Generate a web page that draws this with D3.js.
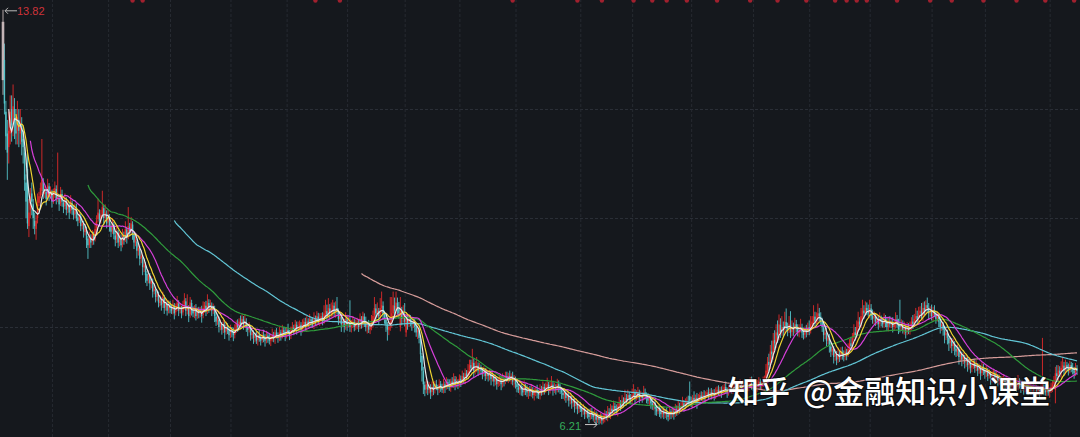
<!DOCTYPE html>
<html><head><meta charset="utf-8">
<script src="https://cdn.jsdelivr.net/npm/d3@7"></script>
<style>
html,body{margin:0;padding:0;background:#15181d;overflow:hidden;}
svg{display:block;}
</style></head><body>
<svg id="chart" width="1080" height="437"></svg>
<script>
// Daily closes (one per trading day)
const close = [
13.6,12.1,11.5,11.2,11.6,11.95,11.7,12.05,11.8,11.55,11.85,11.6,11.75,11.4,11.3,10.7,10.3,9.9,10.1,10.4,10.3,10.0,9.85,9.95,10.25,
10.4,10.55,10.7,10.45,10.5,10.35,10.6,10.4,10.5,10.3,10.45,10.55,10.35,10.4,10.25,10.45,10.3,10.2,10.35,10.15,10.25,10.1,10.3,10.15,10.05,
10.2,10.0,9.95,10.05,9.85,9.9,9.75,9.8,9.6,9.5,9.65,9.55,9.7,9.6,9.8,9.95,10.1,9.95,10.05,10.2,10.0,10.1,9.9,10.05,9.85,
9.75,9.9,9.7,9.6,9.75,9.55,9.65,9.5,9.7,9.6,9.8,9.65,9.85,9.75,9.9,9.7,9.55,9.6,9.4,9.45,9.25,9.3,9.1,9.15,8.95,
8.85,8.95,8.8,8.85,8.65,8.7,8.55,8.6,8.45,8.5,8.4,8.55,8.35,8.45,8.3,8.4,8.35,8.3,8.4,8.25,8.35,8.45,8.3,8.35,8.25,
8.4,8.5,8.3,8.35,8.2,8.45,8.3,8.25,8.35,8.2,8.3,8.25,8.3,8.2,8.35,8.4,8.3,8.45,8.35,8.4,8.3,8.35,8.2,8.1,8.15,
8.0,8.05,7.95,8.05,7.9,8.0,7.95,7.85,7.95,7.9,7.85,7.95,8.05,8.0,8.1,8.05,8.15,8.05,8.1,8.0,7.95,8.0,7.85,7.9,7.8,
7.85,7.75,7.85,7.8,7.75,7.85,7.8,7.75,7.85,7.8,7.75,7.8,7.85,7.8,7.9,7.85,7.8,7.9,7.85,7.95,7.9,7.85,7.95,7.9,7.85,
7.95,8.0,7.95,8.05,7.95,8.0,8.05,7.95,8.05,8.1,8.0,8.1,8.05,8.15,8.1,8.05,8.15,8.1,8.2,8.1,8.15,8.2,8.1,8.25,8.3,
8.2,8.35,8.25,8.3,8.4,8.25,8.35,8.3,8.15,8.2,8.05,8.1,8.0,8.15,8.05,8.1,8.0,8.05,8.1,8.0,8.05,8.1,8.0,8.15,8.05,
8.2,8.1,8.0,8.05,7.95,8.0,8.1,8.2,8.35,8.25,8.3,8.2,8.35,8.4,8.25,8.15,8.05,7.95,8.0,8.1,8.25,8.4,8.3,8.45,8.35,
8.25,8.3,8.15,8.2,8.1,8.15,8.05,8.15,8.1,8.05,8.1,8.0,7.9,7.95,7.8,7.5,7.2,6.95,6.85,6.95,6.85,6.9,6.8,6.9,6.85,
6.95,6.9,6.85,6.95,6.9,6.85,6.95,6.9,7.0,6.95,6.9,7.0,6.95,7.05,6.95,7.0,6.95,7.05,7.0,7.1,7.05,7.15,7.1,7.2,7.3,
7.25,7.35,7.2,7.25,7.3,7.2,7.25,7.2,7.15,7.2,7.1,7.15,7.1,7.15,7.05,7.1,7.0,7.05,6.95,7.0,7.05,6.95,7.05,7.0,7.1,
7.05,7.1,7.05,7.1,7.0,7.05,6.95,6.9,6.85,6.9,6.85,6.8,6.9,6.85,6.8,6.85,6.8,6.85,6.75,6.8,6.85,6.8,6.75,6.85,6.8,
6.9,6.85,6.9,6.95,6.85,6.9,6.95,6.85,6.9,6.85,6.95,6.9,6.85,6.8,6.75,6.8,6.7,6.75,6.65,6.7,6.6,6.65,6.55,6.6,6.5,
6.55,6.5,6.45,6.5,6.4,6.45,6.4,6.35,6.45,6.4,6.35,6.4,6.3,6.35,6.3,6.35,6.28,6.32,6.4,6.35,6.45,6.4,6.5,6.45,6.55,
6.5,6.45,6.55,6.6,6.55,6.65,6.6,6.7,6.65,6.75,6.7,6.65,6.75,6.8,6.7,6.75,6.8,6.7,6.75,6.7,6.8,6.75,6.7,6.65,6.7,
6.6,6.55,6.6,6.5,6.45,6.5,6.45,6.4,6.45,6.4,6.45,6.4,6.35,6.45,6.4,6.45,6.4,6.5,6.45,6.55,6.5,6.55,6.6,6.55,6.6,
6.65,6.6,6.65,6.6,6.7,6.65,6.7,6.65,6.7,6.75,6.7,6.75,6.7,6.75,6.8,6.75,6.8,6.75,6.8,6.75,6.8,6.85,6.8,6.85,6.8,
6.85,6.9,6.85,6.8,6.85,6.9,6.85,6.9,6.95,6.9,6.85,6.9,6.95,6.9,6.95,6.9,6.95,6.9,6.95,7.0,6.95,6.9,6.95,6.9,6.95,
7.0,6.95,6.95,7.0,7.05,7.2,7.35,7.3,7.55,7.5,7.75,7.7,7.9,7.85,8.05,7.9,8.0,7.95,8.1,8.0,7.95,8.05,7.9,8.0,7.95,
8.05,8.0,7.9,7.95,8.0,7.9,7.85,7.95,7.9,8.0,7.95,8.05,8.1,8.2,8.1,8.15,8.25,8.2,8.1,8.0,7.85,7.9,7.75,7.8,7.65,
7.55,7.6,7.45,7.5,7.4,7.5,7.45,7.55,7.5,7.45,7.55,7.5,7.6,7.7,7.65,7.8,7.9,7.85,8.0,8.1,8.05,8.2,8.3,8.25,8.35,
8.3,8.25,8.35,8.2,8.15,8.2,8.1,8.15,8.05,8.15,8.1,8.05,8.15,8.1,8.0,8.1,8.05,8.1,8.0,8.05,8.15,8.05,7.95,8.0,8.05,
7.95,8.0,7.9,8.0,7.95,8.0,8.1,8.05,8.15,8.2,8.15,8.25,8.3,8.2,8.35,8.3,8.4,8.35,8.25,8.3,8.2,8.3,8.25,8.15,8.2,
8.1,8.0,8.05,7.95,7.85,7.9,7.8,7.7,7.75,7.65,7.7,7.6,7.55,7.6,7.45,7.5,7.4,7.45,7.35,7.4,7.3,7.35,7.25,7.3,7.35,
7.25,7.3,7.2,7.25,7.15,7.25,7.2,7.15,7.2,7.1,7.15,7.05,7.1,7.15,7.05,7.1,7.0,7.05,6.95,7.0,7.05,6.95,7.0,6.95,7.0,
6.9,6.95,7.0,6.95,6.9,7.0,6.95,6.9,6.95,6.85,6.9,6.95,6.85,6.9,6.85,6.9,6.85,6.9,6.8,6.85,6.8,6.9,6.95,6.85,6.8,
6.85,6.8,6.85,6.9,6.95,7.0,7.15,7.1,7.2,7.15,7.25,7.3,7.2,7.3,7.25,7.2,7.3,7.25,7.2,7.15,7.25,7.2
];
// open minus close, in cents
const openDiff = [
-107,80,45,35,-30,-40,30,-30,20,30,-25,20,-20,30,15,50,35,100,-25,-25,15,25,10,-15,-25,
-12,-14,-20,22,-6,13,-22,18,-9,17,-13,-10,18,-4,12,-18,14,8,-13,17,-9,13,-17,12,9,
-13,17,6,-9,18,-4,14,-6,17,12,-14,9,-13,8,-18,-14,-12,13,-8,-14,18,-9,17,-13,16,
9,-13,18,8,-14,17,-9,13,-18,9,-17,14,-18,8,-13,18,14,-5,17,-6,18,-4,17,-6,18,
12,-8,14,-6,18,-4,13,-5,14,-6,9,-13,18,-9,13,-8,6,4,-9,14,-8,-9,13,-4,9,
-13,-9,17,-5,13,-22,14,5,-9,13,-9,4,-5,9,-13,-6,9,-14,9,-5,9,-4,14,9,-5,
13,-5,9,-9,14,-8,5,9,-9,4,6,-9,-10,5,-9,4,-10,9,-5,9,5,-4,13,-5,9,
-5,9,-9,5,4,-9,5,6,-9,4,5,-5,-6,4,-9,5,4,-9,5,-10,4,6,-9,5,4,
-9,-5,4,-9,9,-4,-5,9,-9,-5,9,-9,5,-9,4,5,-10,5,-9,9,-5,-4,9,-13,-5,
9,-14,9,-5,-9,14,-9,5,13,-5,14,-4,9,-13,9,-5,9,-4,-5,9,-5,-4,9,-13,9,
-14,9,9,-5,9,-4,-9,-10,-14,9,-5,9,-14,-5,14,9,10,9,-5,-9,-14,-15,9,-14,9,
9,-30,14,-5,9,-25,9,-9,5,4,-5,9,10,-5,14,28,27,24,9,-9,9,-5,9,-9,5,
-9,5,4,-9,5,4,-9,5,-9,4,5,-9,5,-9,9,-5,4,-9,5,-9,4,-9,5,-10,-9,
5,-9,14,-5,-4,9,-5,4,5,-4,9,-5,4,-5,9,-4,9,-5,9,-4,-5,9,-9,5,-9,
5,-4,5,-5,9,-4,9,5,4,-5,5,4,-9,5,4,-5,5,-4,9,-5,-4,5,4,-9,5,
-9,5,-4,-5,9,-4,-5,9,-4,5,-9,5,4,5,4,-5,9,-4,9,-5,9,-4,9,-5,9,
-5,4,5,-4,9,-5,4,5,-9,4,5,-4,9,-5,4,-5,6,-4,-7,5,-9,4,-9,5,-9,
5,4,-9,-5,4,-9,5,-9,4,-9,5,4,-9,-5,9,-4,-5,9,-4,5,-9,5,4,5,-4,
9,5,-4,9,5,-4,5,4,-5,4,-5,5,4,-9,5,-4,5,-9,4,-9,5,-4,-5,5,-4,
-5,4,8,4,-9,5,-4,5,-4,-5,4,-5,4,-5,-4,5,-4,5,-5,4,-5,-4,5,-5,4,
-4,-5,5,4,-5,-4,5,-4,-5,4,5,-4,-5,4,-5,5,-4,5,-4,-5,4,5,-4,5,-5,
-5,4,-3,-5,-4,-14,-18,6,-26,5,-27,6,-22,5,-20,14,-9,5,-13,9,5,-9,14,-9,4,
-9,5,9,-5,-4,9,5,-9,4,-9,5,-9,-5,-10,9,-4,-9,5,9,10,14,-4,14,-5,14,
9,-5,14,-4,9,-9,5,-9,4,5,-9,4,-9,-10,5,-14,-9,5,-14,-10,5,-14,-9,5,-9,
5,4,-9,14,5,-4,9,-5,9,-9,5,4,-9,5,9,-9,5,-4,9,-5,-9,9,10,5,-4,
9,-5,9,-9,5,-4,-9,5,-9,-5,5,-9,-5,9,-14,5,-9,5,9,-5,9,-9,5,9,-4,
9,10,-4,9,10,-5,9,10,-4,9,-5,9,5,-5,14,-4,9,-5,9,-4,9,-5,9,-4,-5,
9,-5,9,-4,9,-9,5,4,-5,9,-4,9,-5,-4,9,-5,9,-4,9,-5,-4,9,-5,5,-4,
9,-5,-4,5,4,-9,5,4,-5,9,-4,-5,9,-5,4,-5,5,-4,9,-5,4,-9,-5,9,5,
-4,5,-5,-4,-5,-4,-30,5,-9,5,-9,-5,9,-9,5,4,-9,5,4,5,-9,4
];
// high minus top of body, in cents
const upperWick = [
22,30,20,25,35,30,25,40,20,15,30,20,25,15,20,10,15,35,25,15,20,10,15,10,20,
8,10,75,6,10,5,12,6,8,5,9,12,7,80,6,12,8,5,10,6,8,7,12,5,8,
7,9,6,10,5,8,6,9,7,5,10,6,8,7,12,10,25,8,10,30,6,15,7,10,6,
6,10,5,8,12,6,9,7,10,6,14,5,35,8,12,6,5,9,5,8,6,10,5,9,6,
6,9,5,8,6,10,5,7,6,9,5,10,6,8,5,9,7,6,10,5,8,12,6,9,5,
8,12,6,25,7,10,6,8,5,9,6,8,7,10,12,6,9,15,7,10,6,8,5,9,6,
6,9,5,8,6,10,7,5,9,6,8,10,7,9,6,12,8,6,14,7,5,9,6,8,5,
5,8,6,9,5,7,10,6,8,5,9,6,12,7,5,8,6,10,5,9,6,8,5,11,6,
6,9,5,8,6,10,7,5,9,6,8,10,6,9,5,8,12,6,9,7,10,6,8,15,20,
12,18,8,15,10,6,12,20,6,10,5,8,6,12,7,9,40,8,10,6,9,7,5,10,6,
8,6,10,5,9,7,12,10,20,8,15,6,18,25,8,6,9,5,8,45,30,25,15,20,10,
12,25,8,20,25,10,6,9,7,5,8,6,5,8,5,6,5,8,6,10,7,9,6,10,7,
6,8,5,9,6,7,10,5,8,6,9,5,8,10,6,9,5,8,6,10,7,9,6,12,10,
10,25,8,12,15,6,9,7,5,8,6,9,5,7,6,10,5,8,6,9,7,5,10,6,8,
8,6,10,5,9,7,5,8,6,10,5,8,12,6,9,5,7,10,6,8,5,9,6,10,7,
10,6,8,12,5,9,15,6,8,5,10,7,6,5,8,6,5,9,6,8,5,7,6,9,5,
6,8,5,9,6,7,5,10,6,8,5,9,6,8,5,7,6,9,8,6,10,7,9,6,10,
6,9,5,12,7,10,6,15,8,10,6,8,12,15,7,9,10,6,8,5,12,7,6,9,5,
6,8,5,9,6,7,5,8,6,9,5,7,6,10,5,8,6,9,7,10,6,8,12,6,9,
7,10,27,8,5,12,6,9,7,5,8,6,10,7,5,9,6,8,5,7,9,6,8,5,7,
8,6,10,5,9,7,12,6,8,5,10,7,9,6,8,10,5,9,6,8,10,6,9,5,8,
8,6,5,9,6,12,10,15,12,20,14,18,15,22,18,12,20,10,18,25,8,15,25,12,9,
12,8,6,10,15,7,9,6,10,8,12,15,10,20,9,12,18,10,8,7,9,6,10,7,8,
8,10,6,9,7,12,6,8,10,7,9,6,10,8,12,9,15,10,12,18,8,15,20,10,12,
10,12,15,8,12,9,6,10,8,12,6,9,10,7,8,6,10,7,9,6,12,8,10,45,9,
8,10,6,9,7,10,8,12,9,15,10,12,8,15,10,12,9,14,10,8,12,7,10,6,9,
6,8,10,5,7,9,6,5,8,6,9,5,7,8,5,9,6,8,5,9,6,10,7,8,6,
6,9,5,8,6,10,7,5,9,6,8,5,10,7,6,9,5,8,6,10,7,5,9,6,8,
7,10,6,8,5,12,6,9,7,5,8,10,6,9,5,7,6,10,5,8,6,12,85,7,9,
6,9,5,8,7,10,12,15,10,8,12,15,7,10,6,9,8,6,10,7,9,6
];
// bottom of body minus low, in cents
const lowerWick = [
27,20,25,50,30,20,30,25,35,20,25,30,20,25,30,20,30,10,20,15,25,20,15,20,10,
6,5,8,10,7,12,6,9,5,11,6,8,10,7,12,5,9,11,6,10,7,12,5,9,8,
8,6,10,5,9,7,11,6,15,25,6,10,7,9,5,8,6,10,7,5,12,8,9,6,10,
10,6,9,12,7,10,8,11,6,9,7,12,6,9,8,10,12,7,14,8,12,9,15,8,14,
10,7,12,8,11,6,10,7,9,6,10,7,11,6,9,7,10,6,8,11,6,7,10,6,9,
6,9,10,7,11,6,9,7,10,8,6,9,7,12,6,8,10,7,9,6,10,7,11,8,6,
10,6,9,7,12,6,8,10,6,9,11,7,6,9,7,8,6,10,7,9,12,6,10,7,11,
8,6,10,7,9,5,8,11,6,9,7,10,6,8,12,6,9,7,10,6,8,11,7,6,9,
8,6,10,7,9,6,8,11,6,9,7,10,6,8,11,6,9,7,10,6,8,11,7,6,9,
8,6,10,7,12,6,9,7,11,8,14,6,10,7,12,6,9,11,7,8,6,10,9,6,8,
7,10,8,12,6,9,7,11,6,12,8,15,7,10,12,9,14,20,10,8,12,9,15,8,12,
10,8,12,7,9,8,10,6,9,12,7,10,8,12,10,15,20,18,12,8,10,7,12,8,10,
8,6,10,7,9,6,8,11,6,9,7,10,6,8,11,6,9,7,10,6,8,11,7,6,9,
8,6,12,7,9,10,6,8,11,7,9,6,10,8,12,6,9,7,10,6,8,11,7,9,6,
6,9,5,10,7,12,8,10,6,9,11,7,6,10,8,12,7,9,6,10,8,11,7,9,6,
6,9,7,5,10,8,6,11,7,9,6,10,8,12,7,10,9,6,11,7,10,8,12,6,10,
8,6,10,7,9,6,8,11,6,9,7,10,8,6,9,7,7,5,8,6,9,7,10,6,8,
8,6,10,7,9,6,8,5,9,7,10,6,8,7,11,6,8,10,7,9,6,8,10,7,9,
10,7,9,12,8,6,10,8,6,9,7,10,8,6,9,7,10,6,8,7,9,6,8,10,7,
8,6,10,7,9,6,8,15,7,9,6,8,7,10,6,9,7,8,6,10,7,9,6,8,10,
6,9,7,10,6,8,7,9,6,10,7,8,6,9,7,10,6,8,9,6,10,7,8,6,9,
6,9,7,5,8,5,7,12,6,15,8,12,7,14,9,10,7,12,9,8,12,7,10,8,11,
8,10,7,9,6,10,8,7,9,6,10,8,7,9,11,6,8,10,7,9,12,8,10,7,12,
10,7,12,8,10,7,9,6,10,8,7,11,6,9,7,8,6,10,7,9,11,7,8,10,6,
8,6,10,7,9,11,8,6,10,7,9,6,8,10,7,9,6,8,10,7,9,6,8,10,7,
7,9,11,6,8,10,7,9,6,8,10,7,9,6,10,8,7,9,11,6,8,10,7,9,6,
10,12,8,11,15,9,12,14,10,13,9,12,10,8,14,9,12,8,11,9,12,8,10,9,7,
9,6,10,7,12,6,8,10,7,9,6,11,7,8,10,6,9,7,12,6,8,10,7,9,6,
8,6,10,7,9,6,8,11,7,9,6,8,10,7,9,6,8,7,10,6,9,8,7,10,6,
8,6,10,7,9,6,25,8,10,7,9,6,10,8,7,9,6,8,7,10,6,8
];
const maPeriods = [250, 120, 60, 20, 10, 5];
const priceTicks = [8, 10, 12];
// candle index of each dashed vertical grid line
const gridIdx = [34, 73, 116, 158, 197, 239, 279, 317, 356, 401, 437, 478, 521, 560, 602, 645, 682, 727];
// candle index of the small red event marks on the top edge
const markerIdx = [90, 97, 217, 234, 354, 399, 416, 438, 451, 461, 475, 496, 519, 538, 558, 578, 586, 593, 600, 621, 644, 659, 681, 704, 724, 744];
const watermark = ["知乎", "@金融知识小课堂"];

const W = 1080, H = 437;
const n = Math.min(close.length, openDiff.length, upperWick.length, lowerWick.length);
const candles = d3.range(n).map(i => {
  const c = close[i], o = c + openDiff[i] / 100;
  const top = Math.max(o, c), bot = Math.min(o, c);
  return { i, o, c, h: top + upperWick[i] / 100, l: bot - lowerWick[i] / 100 };
});

const svg = d3.select("#chart");
svg.append("rect").attr("width", W).attr("height", H).attr("fill", "#15181d");

const x = d3.scaleLinear().domain([0, n - 1]).range([3, 1077]);
const y = d3.scaleLinear().domain([6, 14]).range([436, 0]);

// grid
const gy = svg.append("g").call(d3.axisRight(y).tickValues(priceTicks).tickSize(W).tickFormat(""));
gy.select(".domain").remove();
gy.selectAll("line").attr("stroke", "#2a2e36").attr("stroke-dasharray", "3,2");
const gx = svg.append("g").attr("transform", `translate(0,${H})`)
  .call(d3.axisBottom(x).tickValues(gridIdx).tickSize(-H).tickFormat(""));
gx.select(".domain").remove();
gx.selectAll("line").attr("stroke", "#262a31").attr("stroke-dasharray", "3,2");

// top event marks
svg.append("g").selectAll("circle").data(markerIdx).join("circle")
  .attr("cx", d => x(d)).attr("cy", 0.5).attr("r", 2.2).attr("fill", "#a0202e");

// candles
const col = d => d.i === 0 ? "#c4b4b6" : (d.c >= d.o ? "#e02a2a" : "#54c3c9");
const gc = svg.append("g");
gc.selectAll("line").data(candles).join("line")
  .attr("x1", d => x(d.i)).attr("x2", d => x(d.i))
  .attr("y1", d => y(d.h)).attr("y2", d => y(d.l))
  .attr("stroke", col).attr("stroke-width", 0.9);
gc.selectAll("rect").data(candles).join("rect")
  .attr("x", d => x(d.i) - (d.i === 0 ? 1.3 : 0.7))
  .attr("width", d => d.i === 0 ? 2.6 : 1.4)
  .attr("y", d => y(Math.max(d.o, d.c)))
  .attr("height", d => Math.max(1, Math.abs(y(d.o) - y(d.c))))
  .attr("fill", col);

// moving averages
const maColor = { 5: "#e8e8e8", 10: "#f0d431", 20: "#d63fd9", 60: "#2f9c3c", 120: "#62c6d6", 250: "#d69c9a" };
const line = d3.line().defined(v => v != null).x((v, i) => x(i)).y(v => y(v));
maPeriods.forEach(p => {
  const vals = candles.map((d, i) => i < p - 1 ? null : d3.mean(close.slice(i - p + 1, i + 1)));
  svg.append("path").datum(vals).attr("d", line)
    .attr("fill", "none").attr("stroke", maColor[p]).attr("stroke-width", 1.2);
});

// extreme annotations
const iMax = d3.maxIndex(candles, d => d.h), iMin = d3.minIndex(candles, d => d.l);
const hi = candles[iMax], lo = candles[iMin];
const ann = svg.append("g").attr("font-family", "Liberation Sans, Arial, sans-serif").attr("font-size", 11);
const ayH = y(hi.h) + 1;
ann.append("path").attr("d", `M${x(iMax) + 14},${ayH}H${x(iMax) + 2}M${x(iMax) + 5},${ayH - 3}L${x(iMax) + 2},${ayH}L${x(iMax) + 5},${ayH + 3}`)
  .attr("stroke", "#b9b9b9").attr("fill", "none").attr("stroke-width", 1);
ann.append("text").attr("x", x(iMax) + 14).attr("y", ayH + 4).attr("fill", "#d0333a").text(hi.h.toFixed(2));
const ayL = y(lo.l);
ann.append("path").attr("d", `M${x(iMin) - 14},${ayL}H${x(iMin) - 2}M${x(iMin) - 5},${ayL - 3}L${x(iMin) - 2},${ayL}L${x(iMin) - 5},${ayL + 3}`)
  .attr("stroke", "#c9c9c9").attr("fill", "none").attr("stroke-width", 1);
ann.append("text").attr("x", x(iMin) - 18).attr("y", ayL + 5).attr("text-anchor", "end").attr("fill", "#35ad5c").text(lo.l.toFixed(2));

// watermark
const wm = svg.append("text").attr("y", 403)
  .attr("font-family", "Noto Sans CJK SC, sans-serif").attr("font-size", 31).attr("font-weight", 500)
  .attr("fill", "#ffffff").attr("stroke", "rgba(0,0,0,0.45)").attr("stroke-width", 2.5)
  .attr("paint-order", "stroke");
wm.append("tspan").attr("x", 728).text(watermark[0]);
wm.append("tspan").attr("x", 803).text(watermark[1]);
</script>
</body></html>
